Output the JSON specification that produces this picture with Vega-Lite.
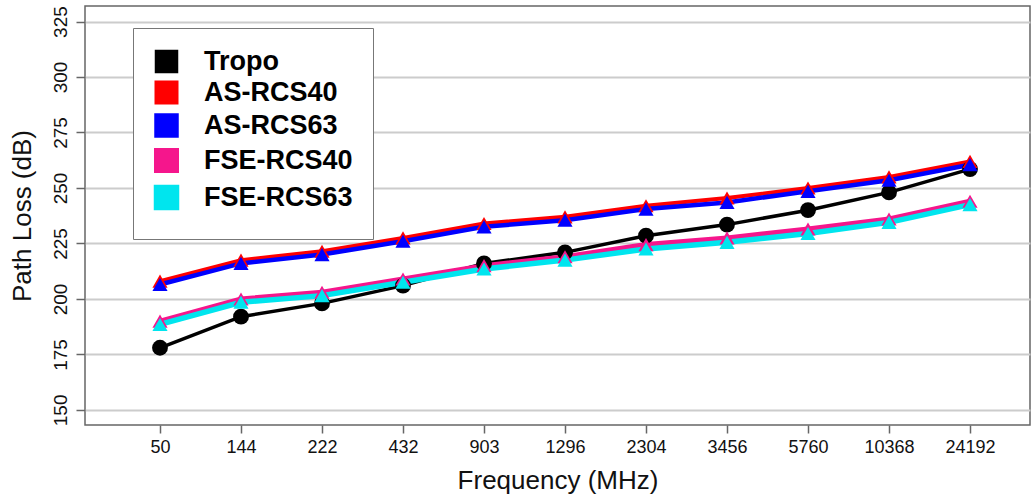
{
  "$schema": "https://vega.github.io/schema/vega-lite/v6.json",
  "width": 945,
  "height": 419,
  "autosize": {"type": "none"},
  "padding": {"left": 85, "top": 6, "right": 2, "bottom": 75},
  "background": "white",
  "config": {
    "font": "Liberation Sans",
    "view": {"stroke": "#666", "strokeWidth": 1.5},
    "axis": {"labelFont": "Liberation Sans", "titleFont": "Liberation Sans", "labelColor": "#111", "titleColor": "#111", "titleFontWeight": "normal", "domain": false, "tickColor": "#666", "tickWidth": 1.5}
  },
  "data": {
    "values": [
      {"freq": "50", "series": "Tropo", "loss": 178},
      {"freq": "144", "series": "Tropo", "loss": 192},
      {"freq": "222", "series": "Tropo", "loss": 198},
      {"freq": "432", "series": "Tropo", "loss": 206},
      {"freq": "903", "series": "Tropo", "loss": 216},
      {"freq": "1296", "series": "Tropo", "loss": 221},
      {"freq": "2304", "series": "Tropo", "loss": 228.5},
      {"freq": "3456", "series": "Tropo", "loss": 233.5},
      {"freq": "5760", "series": "Tropo", "loss": 240},
      {"freq": "10368", "series": "Tropo", "loss": 248},
      {"freq": "24192", "series": "Tropo", "loss": 258.5},
      {"freq": "50", "series": "AS-RCS40", "loss": 208},
      {"freq": "144", "series": "AS-RCS40", "loss": 217.5},
      {"freq": "222", "series": "AS-RCS40", "loss": 221.5},
      {"freq": "432", "series": "AS-RCS40", "loss": 227.5},
      {"freq": "903", "series": "AS-RCS40", "loss": 234},
      {"freq": "1296", "series": "AS-RCS40", "loss": 237},
      {"freq": "2304", "series": "AS-RCS40", "loss": 242},
      {"freq": "3456", "series": "AS-RCS40", "loss": 245.5},
      {"freq": "5760", "series": "AS-RCS40", "loss": 250},
      {"freq": "10368", "series": "AS-RCS40", "loss": 255},
      {"freq": "24192", "series": "AS-RCS40", "loss": 262},
      {"freq": "50", "series": "AS-RCS63", "loss": 206.5},
      {"freq": "144", "series": "AS-RCS63", "loss": 216},
      {"freq": "222", "series": "AS-RCS63", "loss": 220},
      {"freq": "432", "series": "AS-RCS63", "loss": 226},
      {"freq": "903", "series": "AS-RCS63", "loss": 232.5},
      {"freq": "1296", "series": "AS-RCS63", "loss": 235.5},
      {"freq": "2304", "series": "AS-RCS63", "loss": 240.5},
      {"freq": "3456", "series": "AS-RCS63", "loss": 243.5},
      {"freq": "5760", "series": "AS-RCS63", "loss": 248.5},
      {"freq": "10368", "series": "AS-RCS63", "loss": 253.5},
      {"freq": "24192", "series": "AS-RCS63", "loss": 260.5},
      {"freq": "50", "series": "FSE-RCS40", "loss": 190},
      {"freq": "144", "series": "FSE-RCS40", "loss": 200},
      {"freq": "222", "series": "FSE-RCS40", "loss": 203},
      {"freq": "432", "series": "FSE-RCS40", "loss": 209},
      {"freq": "903", "series": "FSE-RCS40", "loss": 215},
      {"freq": "1296", "series": "FSE-RCS40", "loss": 219},
      {"freq": "2304", "series": "FSE-RCS40", "loss": 224.5},
      {"freq": "3456", "series": "FSE-RCS40", "loss": 227.5},
      {"freq": "5760", "series": "FSE-RCS40", "loss": 231.5},
      {"freq": "10368", "series": "FSE-RCS40", "loss": 236},
      {"freq": "24192", "series": "FSE-RCS40", "loss": 244},
      {"freq": "50", "series": "FSE-RCS63", "loss": 188.5},
      {"freq": "144", "series": "FSE-RCS63", "loss": 198.5},
      {"freq": "222", "series": "FSE-RCS63", "loss": 201.5},
      {"freq": "432", "series": "FSE-RCS63", "loss": 207.5},
      {"freq": "903", "series": "FSE-RCS63", "loss": 213.5},
      {"freq": "1296", "series": "FSE-RCS63", "loss": 217.5},
      {"freq": "2304", "series": "FSE-RCS63", "loss": 222.5},
      {"freq": "3456", "series": "FSE-RCS63", "loss": 225.5},
      {"freq": "5760", "series": "FSE-RCS63", "loss": 229.5},
      {"freq": "10368", "series": "FSE-RCS63", "loss": 234.5},
      {"freq": "24192", "series": "FSE-RCS63", "loss": 242.5}
    ]
  },
  "encoding": {
    "x": {
      "field": "freq",
      "type": "ordinal",
      "sort": null,
      "scale": {"type": "point", "padding": 0.8333, "align": 0.5556},
      "axis": {"title": "Frequency (MHz)", "titleFontSize": 26, "titlePadding": 11, "labelFontSize": 18, "labelAngle": 0, "labelPadding": 5, "tickSize": 8, "grid": false}
    },
    "y": {
      "field": "loss",
      "type": "quantitative",
      "scale": {"domain": [143.2, 332], "nice": false, "zero": false},
      "axis": {"title": "Path Loss (dB)", "titleFontSize": 26, "titlePadding": 16, "labelFontSize": 19, "labelAngle": 270, "labelAlign": "center", "labelBaseline": "bottom", "labelPadding": 6, "tickSize": 9, "values": [150, 175, 200, 225, 250, 275, 300, 325], "grid": true, "gridColor": "#cccccc", "gridWidth": 2}
    },
    "color": {
      "field": "series",
      "type": "nominal",
      "sort": ["Tropo", "AS-RCS40", "AS-RCS63", "FSE-RCS40", "FSE-RCS63"],
      "scale": {"domain": ["Tropo", "AS-RCS40", "AS-RCS63", "FSE-RCS40", "FSE-RCS63"], "range": ["#000000", "#ff0000", "#0000ff", "#f5168c", "#00e5ee"]},
      "legend": {
        "title": null,
        "orient": "none",
        "legendX": 48,
        "legendY": 22,
        "padding": 20,
        "fillColor": "white",
        "strokeColor": "#777",
        "labelFontSize": 27,
        "labelFontWeight": "bold",
        "labelColor": "#000",
        "labelOffset": 24,
        "rowPadding": -5,
        "symbolType": "square",
        "symbolSize": 400,
        "symbolStrokeColor": "#555",
        "symbolStrokeWidth": 1,
        "symbolOpacity": 1,
        "encode": {
          "symbols": {"update": {"fill": {"scale": "color", "field": "value"}, "stroke": {"value": "#555"}, "strokeWidth": {"value": 1}, "opacity": {"value": 1}}}
        }
      }
    }
  },
  "layer": [
    {
      "mark": {"type": "line"},
      "encoding": {
        "strokeWidth": {"field": "series", "type": "nominal", "scale": {"domain": ["Tropo", "AS-RCS40", "AS-RCS63", "FSE-RCS40", "FSE-RCS63"], "range": [3.5, 5.5, 5.5, 5.5, 5.5]}, "legend": null}
      }
    },
    {
      "transform": [{"filter": "datum.series === 'Tropo'"}],
      "mark": {"type": "point", "filled": true, "opacity": 1, "shape": "circle", "size": 250}
    },
    {
      "transform": [{"filter": "datum.series !== 'Tropo'"}],
      "mark": {"type": "point", "filled": true, "opacity": 1, "shape": "triangle-up", "size": 230}
    }
  ]
}
